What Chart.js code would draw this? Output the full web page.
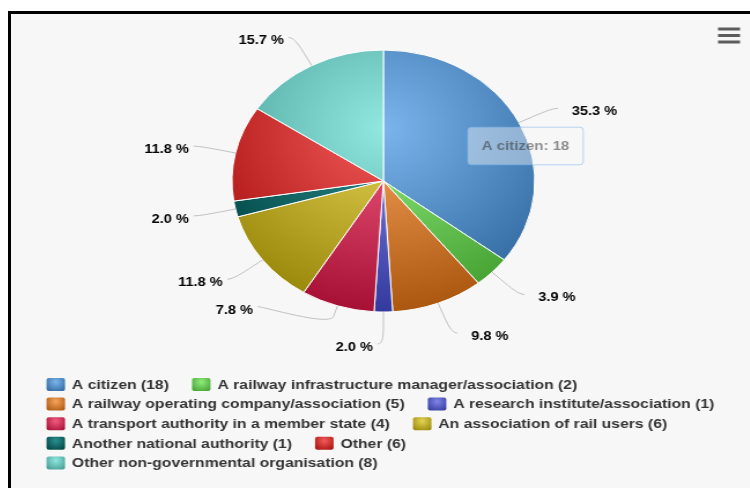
<!DOCTYPE html>
<html>
<head>
<meta charset="utf-8">
<script src="https://cdn.jsdelivr.net/npm/chart.js@4/dist/chart.umd.min.js"></script>
<style>
html,body{margin:0;padding:0;background:#ffffff;width:750px;height:488px;overflow:hidden;}
#frame{position:absolute;left:8px;top:11px;width:800px;height:500px;border-top:3px solid #000;border-left:3px solid #000;background:#f7f7f7;}
#wrap{position:absolute;left:10px;top:14px;width:640px;height:474px;transform-origin:0 0;transform:scaleX(1.156);}
canvas{display:block;}
</style>
</head>
<body>
<div id="frame"></div>
<div id="wrap"><canvas id="c" width="640" height="474"></canvas></div>
<script>
// ---- data ----
const categories = [
  'A citizen',
  'A railway infrastructure manager/association',
  'A railway operating company/association',
  'A research institute/association',
  'A transport authority in a member state',
  'An association of rail users',
  'Another national authority',
  'Other',
  'Other non-governmental organisation'
];
const counts = [18, 2, 5, 1, 4, 6, 1, 6, 8];
const baseColors = ['#7cb5ec', '#90ed7d', '#f7a35c', '#8085e9', '#f15c80', '#e4d354', '#2b908f', '#f45b5b', '#91e8e1'];
const tooltipIndex = 0;
const hoverPointer = {x: 396, y: 132};

// ---- helpers ----
function darker(hex) {
  const n = parseInt(hex.slice(1), 16);
  const r = Math.max(0, ((n >> 16) & 255) - 76);
  const g = Math.max(0, ((n >> 8) & 255) - 76);
  const b = Math.max(0, (n & 255) - 76);
  return `rgb(${r},${g},${b})`;
}
const LABEL_FONT = 'bold 12.6px "Liberation Sans", Arial, sans-serif';
const LEGEND_FONT = 'bold 13.6px "Liberation Sans", Arial, sans-serif';

function sliceFill(ctx) {
  const i = ctx.dataIndex === undefined ? 0 : ctx.dataIndex;
  const base = baseColors[i];
  const area = ctx.chart.chartArea;
  if (!area) return base;
  const cx = (area.left + area.right) / 2, cy = (area.top + area.bottom) / 2;
  const r = (Math.min(area.width, area.height) - 1) / 2;
  const g = ctx.chart.ctx.createRadialGradient(cx, cy - 0.4 * r, 0, cx, cy - 0.4 * r, 1.4 * r);
  g.addColorStop(0, base);
  g.addColorStop(1, darker(base));
  return g;
}

// ---- data labels with connectors (highcharts-like) ----
const pieLabels = {
  id: 'pieLabels',
  afterDatasetsDraw(chart) {
    const arcs = chart.getDatasetMeta(0).data;
    if (!arcs.length) return;
    const total = counts.reduce((a, b) => a + b, 0);
    const ctx = chart.ctx;
    const cx = arcs[0].x, cy = arcs[0].y, r = arcs[0].outerRadius;
    const R = r + 32, SLOT = 22.2, BREAK = 11;
    const all = arcs.map((a, i) => {
      let mid = (a.startAngle + a.endAngle) / 2;
      while (mid < -Math.PI / 2) mid += 2 * Math.PI;
      while (mid >= 1.5 * Math.PI) mid -= 2 * Math.PI;
      const c = Math.cos(mid), s = Math.sin(mid);
      return {
        i, mid, left: mid > Math.PI / 2 - 1e-9,
        naturalY: cy + R * s,
        bx: cx + r * c, by: cy + r * s,
        b2x: cx + (r + BREAK) * c, b2y: cy + (r + BREAK) * s
      };
    });
    ctx.save();
    [false, true].forEach(side => {
      const pts = all.filter(p => p.left === side);
      pts.sort((a, b) => side ? b.mid - a.mid : a.mid - b.mid);
      const slots = [];
      for (let pos = cy - R; pos <= cy + R + 1e-9; pos += SLOT) slots.push(pos);
      const n = slots.length, len = pts.length;
      const used = [];
      pts.forEach((p, j) => {
        let closest = 1e9, idx = 0;
        for (let k = 0; k < n; k++) {
          const d = Math.abs(slots[k] - p.naturalY);
          if (d < closest) { closest = d; idx = k; }
        }
        if (idx < j && slots[j] !== null) idx = j;
        else if (n < len - j + idx && slots[j] !== null) {
          idx = n - len + j;
          while (slots[idx] === null) idx++;
        } else {
          while (slots[idx] === null) idx++;
        }
        used.push({k: idx, y: slots[idx]});
        slots[idx] = null;
      });
      pts.forEach((p, j) => {
        const si = used[j].k;
        let y = used[j].y;
        if ((p.naturalY > y && slots[si + 1] !== null) || (p.naturalY < y && slots[si - 1] !== null)) y = p.naturalY;
        const xy = (si === 0 || si === n - 1) ? p.naturalY : y;
        const dy = Math.max(-1, Math.min(1, (xy - cy) / R));
        const x = cx + (side ? -1 : 1) * Math.cos(Math.asin(dy)) * R;
        const sx = x + (side ? -5 : 5);
        ctx.strokeStyle = '#c0c0c0';
        ctx.lineWidth = 1;
        ctx.beginPath();
        ctx.moveTo(sx, y);
        ctx.bezierCurveTo(x, y, 2 * p.b2x - p.bx, 2 * p.b2y - p.by, p.b2x, p.b2y);
        ctx.lineTo(p.bx, p.by);
        ctx.stroke();
        const txt = (counts[p.i] / total * 100).toFixed(1) + ' %';
        ctx.fillStyle = '#000000';
        ctx.font = LABEL_FONT;
        ctx.textBaseline = 'middle';
        ctx.textAlign = side ? 'right' : 'left';
        ctx.fillText(txt, side ? sx - 4 : sx + 12, y + 3.5);
      });
    });
    ctx.restore();
  }
};

// ---- legend + menu icon ----
const legendAndMenu = {
  id: 'legendAndMenu',
  afterDraw(chart) {
    const ctx = chart.ctx;
    ctx.save();
    ctx.font = LEGEND_FONT;
    ctx.textBaseline = 'middle';
    ctx.textAlign = 'left';
    const x0 = 31.6, maxW = 582, rowH = 19.6, y0 = 370.5;
    const symW = 16, symH = 13, symGap = 6, itemGap = 20;
    let x = x0, row = 0;
    categories.forEach((cat, i) => {
      const text = `${cat} (${counts[i]})`;
      const w = symW + symGap + ctx.measureText(text).width;
      if (x > x0 && (x - x0) + w > maxW) { row++; x = x0; }
      const y = y0 + row * rowH;
      const sy = y - symH / 2;
      const g = ctx.createRadialGradient(x + symW / 2, sy + 0.3 * symH, 0, x + symW / 2, sy + 0.3 * symH, 0.7 * symW);
      g.addColorStop(0, baseColors[i]);
      g.addColorStop(1, darker(baseColors[i]));
      ctx.fillStyle = g;
      ctx.beginPath();
      if (ctx.roundRect) ctx.roundRect(x, sy, symW, symH, 2); else ctx.rect(x, sy, symW, symH);
      ctx.fill();
      ctx.fillStyle = '#333333';
      ctx.fillText(text, x + symW + symGap, y + 0.5);
      x += w + itemGap;
    });
    // export menu icon
    ctx.strokeStyle = '#5c5c5c';
    ctx.lineWidth = 3;
    ctx.lineCap = 'butt';
    [15, 21.5, 28].forEach(yy => {
      ctx.beginPath();
      ctx.moveTo(612.5, yy);
      ctx.lineTo(631.5, yy);
      ctx.stroke();
    });
    ctx.restore();
  }
};

const tooltipPlugin = Chart.registry.getPlugin('tooltip');
tooltipPlugin.positioners.pointer = function (items, pos) { return pos; };

const chart = new Chart(document.getElementById('c'), {
  type: 'pie',
  data: {
    labels: categories,
    datasets: [{
      data: counts,
      backgroundColor: sliceFill,
      borderColor: '#ffffff',
      borderWidth: 1,
      hoverOffset: 0,
      offset: 0
    }]
  },
  options: {
    responsive: false,
    devicePixelRatio: 1,
    animation: false,
    events: [],
    layout: {padding: {top: 35.5, bottom: 175.5, left: 150, right: 144}},
    plugins: {
      legend: {display: false},
      title: {display: false},
      tooltip: {
        enabled: true,
        position: 'pointer',
        xAlign: 'left',
        yAlign: 'center',
        caretSize: 0,
        caretPadding: 0,
        backgroundColor: 'rgba(249,249,249,0.42)',
        borderColor: 'rgba(124,181,236,0.55)',
        borderWidth: 1,
        cornerRadius: 3,
        padding: {left: 12, right: 12, top: 11, bottom: 11},
        displayColors: false,
        bodyColor: 'rgba(51,51,51,0.55)',
        bodyFont: {family: '"Liberation Sans", Arial, sans-serif', size: 13, weight: 'bold'},
        callbacks: {
          title: () => '',
          label: (item) => `${item.label}: ${item.raw}`
        }
      }
    }
  },
  plugins: [pieLabels, legendAndMenu]
});
chart.tooltip.setActiveElements([{datasetIndex: 0, index: tooltipIndex}], hoverPointer);
chart.update();
</script>
</body>
</html>
